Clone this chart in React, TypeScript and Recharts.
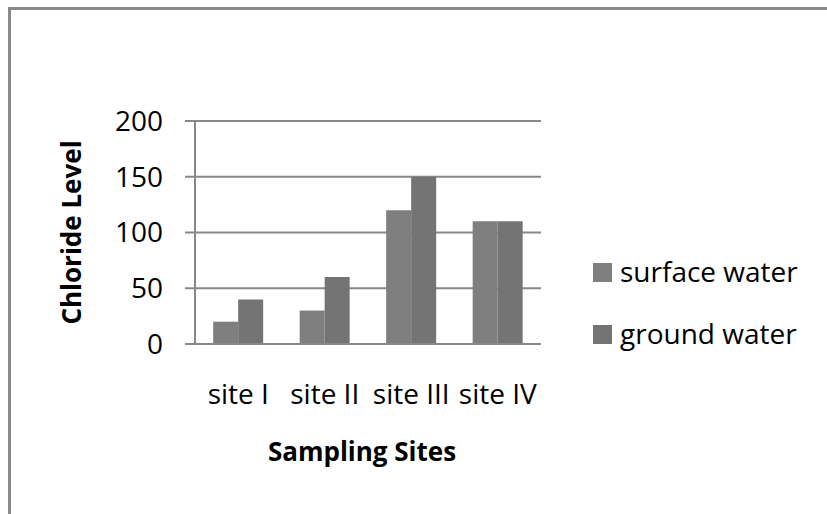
import React from 'react';
import { BarChart, Bar, XAxis, YAxis, CartesianGrid, Legend } from 'recharts';

// chart values
const sites = ['site I', 'site II', 'site III', 'site IV'];
const surfaceWater = [20, 30, 120, 110];
const groundWater = [40, 60, 150, 110];
const yTicks = [0, 50, 100, 150, 200];
const seriesOrder = ['surface', 'ground'];

const data = sites.map((site, i) => ({
  site,
  surface: surfaceWater[i],
  ground: groundWater[i],
}));

const FONT = '"Open Sans", sans-serif';
const GRID = '#888888';

const YTitle = (props: any) => {
  const vb = props.viewBox || {};
  const x = vb.x - 44;
  const y = vb.y + vb.height / 2;
  return (
    <text
      x={x}
      y={y}
      transform={`rotate(-90 ${x} ${y})`}
      textAnchor="middle"
      dominantBaseline="central"
      fontFamily={FONT}
      fontWeight={700}
      fontSize={26}
      fill="#000"
    >
      Chloride Level
    </text>
  );
};

const LegendBox = (props: any) => {
  // keep the series order, not alphabetical
  const items = [...(props.payload || [])].sort(
    (a: any, b: any) => seriesOrder.indexOf(a.dataKey) - seriesOrder.indexOf(b.dataKey)
  );
  return (
    <div style={{ fontFamily: FONT, fontSize: 28, color: '#000' }}>
      {items.map((entry: any) => (
        <div key={entry.value} style={{ height: 62, lineHeight: '62px', whiteSpace: 'nowrap' }}>
          <span
            style={{
              display: 'inline-block',
              width: 19,
              height: 19,
              background: entry.color,
              marginRight: 8,
            }}
          />
          <span>{entry.value}</span>
        </div>
      ))}
    </div>
  );
};

export default function App() {
  return (
    <div style={{ position: 'absolute', left: 0, top: 0, width: 827, height: 514, background: '#fff' }}>
      {/* frame around the chart, only top and left are visible */}
      <div
        style={{
          position: 'absolute',
          left: 8,
          top: 7,
          width: 830,
          height: 520,
          borderLeft: '3px solid #8a8a8a',
          borderTop: '3px solid #8a8a8a',
        }}
      />
      <BarChart
        width={827}
        height={514}
        data={data}
        margin={{ top: 121, right: 286, bottom: 110, left: 115 }}
        barCategoryGap="21%"
        barGap={0}
        style={{ position: 'absolute', left: 0, top: 0 }}
      >
        <CartesianGrid vertical={false} stroke={GRID} strokeWidth={2} />
        <XAxis
          dataKey="site"
          height={60}
          interval={0}
          tickLine={false}
          tickSize={0}
          tickMargin={40}
          axisLine={{ stroke: GRID, strokeWidth: 2 }}
          tick={{ fill: '#000', fontSize: 28, fontFamily: FONT }}
          label={{
            value: 'Sampling Sites',
            position: 'bottom',
            offset: 39,
            dx: -6,
            style: { fill: '#000', fontSize: 26, fontWeight: 700, fontFamily: FONT },
          }}
        />
        <YAxis
          width={80}
          domain={[0, 200]}
          ticks={yTicks}
          interval={0}
          tickSize={10}
          tickMargin={22}
          tickLine={{ stroke: GRID, strokeWidth: 2 }}
          axisLine={{ stroke: GRID, strokeWidth: 2 }}
          tick={{ fill: '#000', fontSize: 28, fontFamily: FONT }}
          label={<YTitle />}
        />
        <Legend
          layout="vertical"
          align="center"
          verticalAlign="middle"
          wrapperStyle={{ left: 593, top: 240, width: 234 }}
          content={<LegendBox />}
        />
        <Bar dataKey="surface" name="surface water" fill="#7f7f7f" isAnimationActive={false} />
        <Bar dataKey="ground" name="ground water" fill="#747474" isAnimationActive={false} />
      </BarChart>
    </div>
  );
}
